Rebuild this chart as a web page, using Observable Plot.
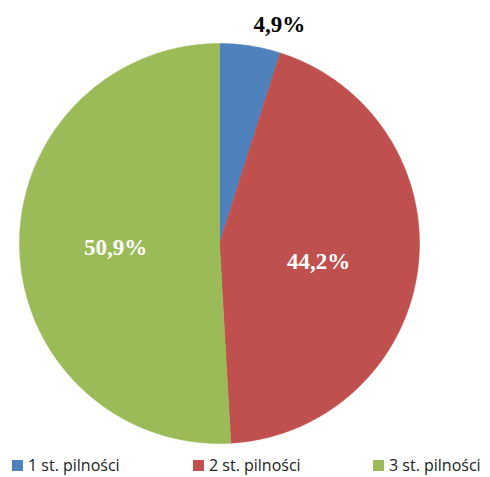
<!DOCTYPE html>
<html>
<head>
<meta charset="utf-8">
<script src="https://cdn.jsdelivr.net/npm/d3@7"></script>
<script src="https://cdn.jsdelivr.net/npm/@observablehq/plot@0.6"></script>
<style>
  html, body { margin: 0; padding: 0; background: #fff; overflow: hidden; }
  #chart { position: relative; width: 490px; height: 477px; }
  #legend { position: absolute; left: 0; top: 456px; width: 490px; height: 18px;
            font-family: "Open Sans", sans-serif; font-size: 16px; line-height: 18px; color: #222; }
  .item { position: absolute; top: 0; display: flex; align-items: center; height: 18px; white-space: nowrap; }
  .sw { width: 11px; height: 11px; margin-right: 5px; margin-top: 1px; }
</style>
</head>
<body>
<div id="chart"></div>
<script>
const categories = ["1 st. pilności", "2 st. pilności", "3 st. pilności"];
const values = [4.9, 44.2, 50.9];
const labels = ["4,9%", "44,2%", "50,9%"];
const colors = ["#4F81BD", "#C0504D", "#9BBB59"];
const labelRadius = [1.11, 0.5, 0.52];
const labelDy = [0, 6, 1];
const labelColors = ["#000", "#fff", "#fff"];
const labelAnchors = ["start", "middle", "middle"];
const legendX = [12, 193, 373];

const arcs = d3.pie().sort(null).value(d => d)(values);

// polygon outline for each slice (angle measured clockwise from top)
const pts = [];
arcs.forEach((a, i) => {
  pts.push({k: categories[i], x: 0, y: 0});
  const n = Math.max(2, Math.ceil((a.endAngle - a.startAngle) / (Math.PI / 360)));
  for (let j = 0; j <= n; j++) {
    const t = a.startAngle + (a.endAngle - a.startAngle) * j / n;
    pts.push({k: categories[i], x: Math.sin(t), y: Math.cos(t)});
  }
  pts.push({k: categories[i], x: 0, y: 0});
});

const labelData = arcs.map((a, i) => {
  const m = (a.startAngle + a.endAngle) / 2;
  return {k: categories[i], label: labels[i], x: labelRadius[i] * Math.sin(m), y: labelRadius[i] * Math.cos(m)};
});

const plot = Plot.plot({
  width: 490,
  height: 453,
  marginLeft: 19,
  marginRight: 71,
  marginTop: 43,
  marginBottom: 10,
  x: {domain: [-1, 1], axis: null},
  y: {domain: [-1, 1], axis: null},
  color: {domain: categories, range: colors},
  marks: [
    Plot.line(pts, {x: "x", y: "y", z: "k", fill: "k", stroke: "k", strokeWidth: 0.5, curve: "linear"}),
    ...labelData.map((d, i) => Plot.text([d], {x: "x", y: "y", text: "label", fill: labelColors[i],
      fontFamily: "Liberation Serif", fontWeight: "bold", fontSize: 23, textAnchor: labelAnchors[i], dy: labelDy[i]}))
  ]
});

const chart = document.getElementById("chart");
chart.appendChild(plot);
const legend = document.createElement("div");
legend.id = "legend";
categories.forEach((c, i) => {
  const it = document.createElement("div");
  it.className = "item";
  it.style.left = legendX[i] + "px";
  const sw = document.createElement("div");
  sw.className = "sw";
  sw.style.background = colors[i];
  const tx = document.createElement("span");
  tx.textContent = c;
  it.appendChild(sw);
  it.appendChild(tx);
  legend.appendChild(it);
});
chart.appendChild(legend);
</script>
</body>
</html>
